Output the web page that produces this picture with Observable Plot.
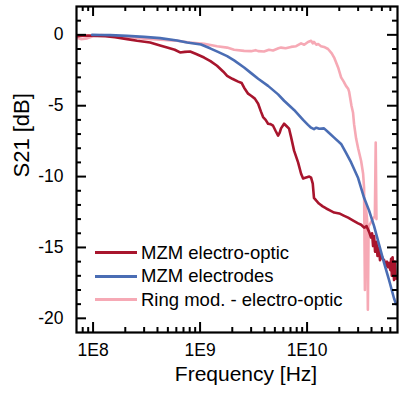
<!DOCTYPE html>
<html><head><meta charset="utf-8">
<script src="https://cdn.jsdelivr.net/npm/d3@7"></script>
<script src="https://cdn.jsdelivr.net/npm/@observablehq/plot@0.6"></script>
<style>
body{margin:0;background:#fff;}
#wrap{position:relative;width:401px;height:395px;font-family:"Liberation Sans",Arial,sans-serif;}
#legend{position:absolute;left:95px;top:241px;}
.row{display:flex;align-items:center;height:23.5px;font-size:18.5px;color:#000;white-space:nowrap;}
.sw{width:42px;height:3px;margin-right:4px;}
</style></head><body><div id="wrap"><div id="legend"></div></div>
<script>
const seriesNames = ["MZM electro-optic", "MZM electrodes", "Ring mod. - electro-optic"];
const seriesColors = ["#a8152d", "#4a6db4", "#f6a9b5"];

// [frequency (Hz), S21 (dB)]
const mzmElectroOptic = [[7.1e7,-0.1],[8e7,-0.06],[9e7,-0.05],[1.09e8,-0.07],[1.3e8,-0.1],[1.6e8,-0.17],[2.08e8,-0.3],[2.58e8,-0.42],[3.41e8,-0.54],[4.23e8,-0.75],[4.92e8,-0.89],[5.8e8,-1.05],[6.5e8,-1.24],[7.2e8,-1.2],[8.07e8,-1.17],[9.2e8,-1.35],[1.09e9,-1.6],[1.25e9,-1.85],[1.44e9,-2.18],[1.65e9,-2.6],[1.79e9,-2.89],[2.0e9,-3.1],[2.27e9,-3.3],[2.45e9,-3.4],[2.58e9,-3.73],[2.81e9,-4.15],[3.0e9,-4.3],[3.25e9,-4.5],[3.49e9,-4.86],[3.7e9,-5.4],[3.88e9,-5.8],[4.1e9,-6.0],[4.32e9,-6.27],[4.55e9,-6.3],[4.81e9,-6.41],[5.1e9,-6.8],[5.36e9,-7.11],[5.55e9,-6.9],[5.71e9,-6.6],[6.1e9,-6.27],[6.45e9,-6.45],[6.79e9,-6.62],[7.08e9,-7.2],[7.56e9,-8.17],[8.24e9,-9.0],[8.79e9,-9.8],[9.18e9,-10.14],[9.79e9,-10.07],[1.05e10,-10.0],[1.09e10,-10.07],[1.13e10,-10.5],[1.16e10,-11.5],[1.22e10,-11.7],[1.29e10,-11.9],[1.4e10,-12.1],[1.51e10,-12.25],[1.65e10,-12.4],[1.79e10,-12.54],[2.0e10,-12.6],[2.2e10,-12.75],[2.42e10,-12.9],[2.7e10,-13.1],[3.0e10,-13.3],[3.2e10,-13.4],[3.41e10,-13.6],[3.6e10,-13.5],[3.8e10,-13.9],[3.96e10,-14.3],[4.05e10,-14.0],[4.14e10,-14.9],[4.23e10,-14.2],[4.32e10,-15.3],[4.45e10,-14.6],[4.55e10,-15.6],[4.7e10,-15.0],[4.8e10,-15.9],[4.92e10,-15.5],[5.1e10,-15.8],[5.25e10,-15.9],[5.45e10,-16.3],[5.6e10,-16.0],[5.71e10,-16.4],[5.85e10,-16.1],[6.0e10,-16.6],[6.1e10,-15.8],[6.2e10,-17.0],[6.3e10,-15.7],[6.4e10,-16.6],[6.5e10,-17.3],[6.6e10,-16.0],[6.7e10,-17.1],[6.8e10,-17.2]];

const mzmElectrodes = [[9.8e7,0],[1.2e8,-0.01],[1.44e8,-0.02],[2.08e8,-0.07],[3.0e8,-0.14],[4.23e8,-0.23],[6.1e8,-0.4],[7.57e8,-0.54],[1.02e9,-0.68],[1.24e9,-0.95],[1.47e9,-1.2],[1.79e9,-1.5],[2.08e9,-1.8],[2.58e9,-2.3],[3.0e9,-2.7],[3.49e9,-3.1],[4.32e9,-3.6],[5.36e9,-4.2],[6.1e9,-4.65],[7.56e9,-5.3],[9.18e9,-6.0],[1.02e10,-6.35],[1.09e10,-6.55],[1.16e10,-6.65],[1.22e10,-6.55],[1.3e10,-6.62],[1.44e10,-6.6],[1.57e10,-6.85],[1.79e10,-7.25],[2.08e10,-7.7],[2.3e10,-8.3],[2.58e10,-9.0],[3.0e10,-10.1],[3.41e10,-11.5],[3.8e10,-12.4],[4.23e10,-13.5],[4.71e10,-14.8],[5.25e10,-16.1],[5.84e10,-17.3],[6.5e10,-18.6],[6.79e10,-19.0]];

const ringModulator = [[7.1e7,-0.2],[7.7e7,-0.3],[8.8e7,-0.25],[1.0e8,-0.1],[1.2e8,-0.02],[1.44e8,-0.07],[1.8e8,-0.12],[2.08e8,-0.15],[2.5e8,-0.2],[3.0e8,-0.28],[3.6e8,-0.3],[4.23e8,-0.35],[5e8,-0.38],[6.1e8,-0.42],[8e8,-0.55],[1.09e9,-0.63],[1.44e9,-0.8],[1.79e9,-0.9],[2.08e9,-1.05],[2.58e9,-1.13],[3.0e9,-1.15],[3.3e9,-1.08],[3.49e9,-1.15],[3.96e9,-1.18],[4.4e9,-1.05],[4.81e9,-1.1],[5.4e9,-0.95],[5.71e9,-0.9],[6.3e9,-0.95],[7.08e9,-0.85],[7.9e9,-0.8],[8.79e9,-0.6],[9.4e9,-0.7],[1.02e10,-0.5],[1.09e10,-0.42],[1.13e10,-0.6],[1.16e10,-0.5],[1.22e10,-0.7],[1.27e10,-0.65],[1.35e10,-0.8],[1.44e10,-0.85],[1.57e10,-1.0],[1.7e10,-1.3],[1.79e10,-1.6],[1.95e10,-2.3],[2.08e10,-3.0],[2.2e10,-3.3],[2.31e10,-3.6],[2.42e10,-3.8],[2.47e10,-4.0],[2.6e10,-5.0],[2.69e10,-5.5],[2.75e10,-6.3],[2.87e10,-7.3],[3.0e10,-8.0],[3.2e10,-8.9],[3.34e10,-9.8],[3.41e10,-10.8],[3.47e10,-18.0],[3.52e10,-12.0],[3.64e10,-13.0],[3.7e10,-19.4],[3.76e10,-13.5],[3.9e10,-13.3],[4.1e10,-13.0],[4.3e10,-12.8],[4.38e10,-7.6],[4.45e10,-13.0]];

const xMajorTicks = [1e8, 1e9, 1e10];
const xMinorTicks = [8e7, 9e7, 2e8, 3e8, 4e8, 5e8, 6e8, 7e8, 8e8, 9e8, 2e9, 3e9, 4e9, 5e9, 6e9, 7e9, 8e9, 9e9, 2e10, 3e10, 4e10, 5e10, 6e10];
const yMajorTicks = [-20, -15, -10, -5, 0];
const yMinorTicks = [-19, -18, -17, -16, -14, -13, -12, -11, -9, -8, -7, -6, -4, -3, -2, -1, 1];

const W = 401, H = 395, mL = 76, mR = 4, mT = 6, mB = 63;
const iw = W - mL - mR, ih = H - mT - mB;
const majorLen = 10, minorLen = 5;
const tickStyle = {stroke: "black", strokeWidth: 2};

const plot = Plot.plot({
  width: W, height: H,
  marginLeft: mL, marginRight: mR, marginTop: mT, marginBottom: mB,
  x: {type: "log", domain: [7e7, 7e10]},
  y: {domain: [-21, 2]},
  style: {fontFamily: '"Liberation Sans", Arial, sans-serif', background: "white", color: "black"},
  marks: [
    Plot.line(ringModulator, {x: d => d[0], y: d => d[1], stroke: seriesColors[2], strokeWidth: 2.6, strokeLinejoin: "round"}),
    Plot.line(mzmElectroOptic, {x: d => d[0], y: d => d[1], stroke: seriesColors[0], strokeWidth: 2.6, strokeLinejoin: "round"}),
    Plot.line(mzmElectrodes, {x: d => d[0], y: d => d[1], stroke: seriesColors[1], strokeWidth: 2.6, strokeLinejoin: "round"}),
    Plot.ruleX(xMajorTicks, {x: d => d, insetTop: ih - majorLen, ...tickStyle}),
    Plot.ruleX(xMajorTicks, {x: d => d, insetBottom: ih - majorLen, ...tickStyle}),
    Plot.ruleX(xMinorTicks, {x: d => d, insetTop: ih - minorLen, ...tickStyle}),
    Plot.ruleX(xMinorTicks, {x: d => d, insetBottom: ih - minorLen, ...tickStyle}),
    Plot.ruleY(yMajorTicks, {y: d => d, insetRight: iw - majorLen, ...tickStyle}),
    Plot.ruleY(yMajorTicks, {y: d => d, insetLeft: iw - majorLen, ...tickStyle}),
    Plot.ruleY(yMinorTicks, {y: d => d, insetRight: iw - minorLen, ...tickStyle}),
    Plot.ruleY(yMinorTicks, {y: d => d, insetLeft: iw - minorLen, ...tickStyle}),
    Plot.frame({stroke: "black", strokeWidth: 2.2}),
    Plot.axisX(xMajorTicks, {tickSize: 0, tickPadding: 11, fontSize: 17.5, label: null, tickFormat: d => "1E" + Math.round(Math.log10(d))}),
    Plot.axisY(yMajorTicks, {tickSize: 0, tickPadding: 13, fontSize: 17.5, label: null, tickFormat: d => String(d)}),
    Plot.text(["Frequency [Hz]"], {text: d => d, frameAnchor: "bottom", dx: 9, dy: 48, fontSize: 21}),
    Plot.text(["S21 [dB]"], {text: d => d, frameAnchor: "left", rotate: -90, dx: -55, dy: 8, fontSize: 22})
  ]
});
document.getElementById("wrap").prepend(plot);

const legend = document.getElementById("legend");
seriesNames.forEach((name, i) => {
  const row = document.createElement("div");
  row.className = "row";
  const sw = document.createElement("div");
  sw.className = "sw";
  sw.style.background = seriesColors[i];
  const label = document.createElement("span");
  label.textContent = name;
  row.appendChild(sw);
  row.appendChild(label);
  legend.appendChild(row);
});
</script>
</body></html>
